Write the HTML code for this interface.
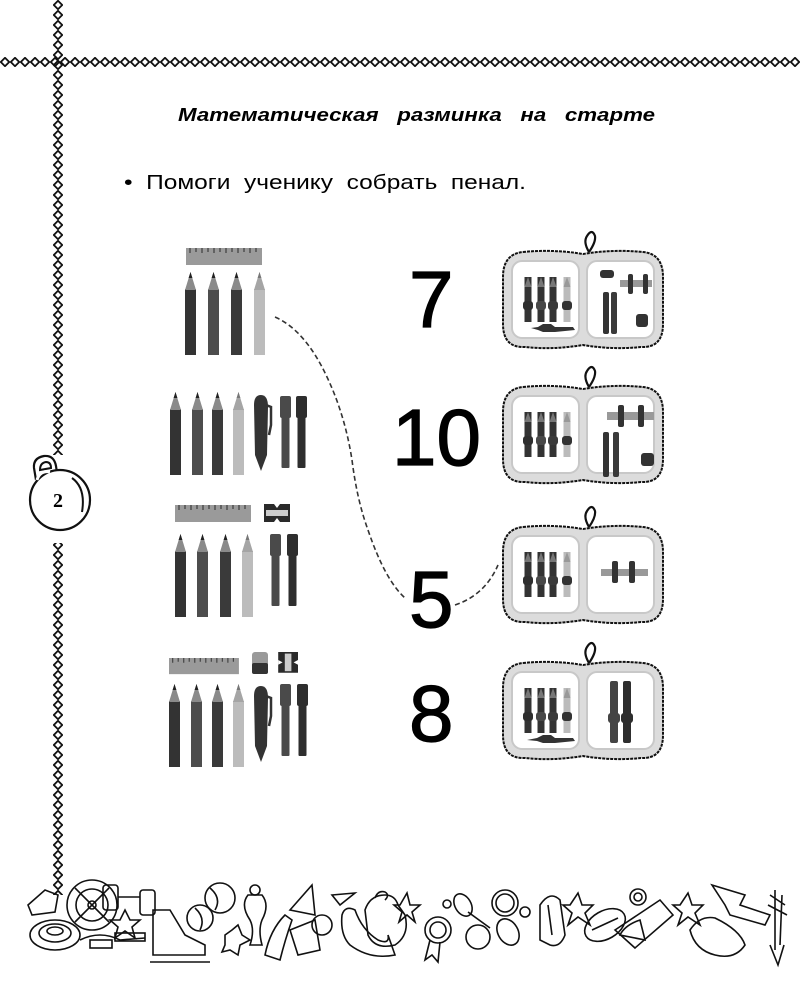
<!DOCTYPE html>
<html><head><meta charset="utf-8"><style>
html,body{margin:0;padding:0;background:#fff;}
svg{display:block;}
</style></head><body>
<svg width="800" height="1000" viewBox="0 0 800 1000" xmlns="http://www.w3.org/2000/svg">
<defs>
<pattern id="ch" x="0" y="57" width="10" height="10" patternUnits="userSpaceOnUse">
<path d="M5 0.8 L9.2 5 L5 9.2 L0.8 5 Z" fill="none" stroke="#111" stroke-width="1.8"/>
</pattern>
<pattern id="cv" x="53" y="0" width="10" height="10" patternUnits="userSpaceOnUse">
<path d="M5 0.8 L9.2 5 L5 9.2 L0.8 5 Z" fill="none" stroke="#111" stroke-width="1.8"/>
</pattern>
<g id="p"><rect y="17" width="11" height="66"/><polygon points="0,18 5.5,0 11,18" fill="#8a8a8a"/><polygon points="3.6,6 5.5,0 7.4,6" fill="#222"/></g>
<g id="pl"><rect y="17" width="11" height="66" fill="#bcbcbc"/><polygon points="0,18 5.5,0 11,18" fill="#a5a5a5"/><polygon points="3.6,6 5.5,0 7.4,6" fill="#777"/></g>
<g id="mk"><rect x="0" y="0" width="11" height="22" rx="2"/><rect x="1.5" y="20" width="8" height="52" rx="1"/></g>
<g id="pen"><path d="M2 10 Q2 0 9 0 Q16 0 16 12 L15 60 L9 76 L3 60 Z" fill="#333"/><path d="M14 10 L19 12 L19 30 L17 40" fill="none" stroke="#333" stroke-width="2.5"/></g>
<g id="ruler"><rect width="76" height="17" fill="#9a9a9a"/><path d="M4 0v5M10 0v4M16 0v5M22 0v4M28 0v5M34 0v4M40 0v5M46 0v4M52 0v5M58 0v4M64 0v5M70 0v4" stroke="#444" stroke-width="1.3"/></g>
<g id="sharp"><path d="M0 0H26V18H0V0Z" fill="#2a2a2a"/><rect x="2" y="6" width="22" height="6" fill="#ccc"/><path d="M10 0 L13 4 L16 0Z M10 18 L13 14 L16 18Z" fill="#fff"/></g>
<g id="cp"><rect x="-2.5" y="0" width="7" height="45" fill="#333"/><polygon points="-2.5,10 1,0 4.5,10" fill="#777"/><rect x="-4" y="24" width="10" height="9" rx="3"/></g>
<g id="shell">
<path d="M86 0 Q80 -10 84 -16 Q89 -24 92 -16 Q93 -10 86 0" fill="none" stroke="#111" stroke-width="2.2"/>
<path d="M20 0 Q50 -3 80 2 Q110 -3 140 0 Q160 2 160 25 L160 72 Q160 96 138 95 Q110 98 80 93 Q50 98 22 95 Q0 96 0 72 L0 25 Q0 2 20 0Z" fill="#dcdcdc" stroke="#111" stroke-width="2" stroke-dasharray="3 1"/>
<rect x="9" y="9" width="67" height="77" rx="10" fill="#fff" stroke="#c8c8c8" stroke-width="2"/>
<rect x="84" y="9" width="67" height="77" rx="10" fill="#fff" stroke="#c8c8c8" stroke-width="2"/>
</g>
<g id="lp">
<use href="#cp" x="24" y="25" fill="#2e2e2e"/>
<use href="#cp" x="37" y="25" fill="#484848"/>
<use href="#cp" x="49" y="25" fill="#3a3a3a"/>
<g transform="translate(63,25)"><rect x="-2.5" y="0" width="7" height="45" fill="#bbb"/><polygon points="-2.5,10 1,0 4.5,10" fill="#999"/><rect x="-4" y="24" width="10" height="9" rx="3" fill="#333"/></g>
</g>
</defs>

<rect x="0" y="57" width="800" height="10" fill="url(#ch)"/>
<rect x="53" y="0" width="10" height="895" fill="url(#cv)"/>

<!-- weight -->
<rect x="28" y="455" width="62" height="88" fill="#fff"/>
<path d="M36 480 L34 468 Q33 458 44 456 Q54 455 56 466 L57 473" fill="#fff" stroke="#111" stroke-width="2.2"/>
<path d="M40 470 Q40 463 46 462 Q51 462 51 468 Z" fill="#fff" stroke="#111" stroke-width="2"/>
<circle cx="60" cy="500" r="30" fill="#fff" stroke="#111" stroke-width="2.2"/>
<path d="M37 480 Q40 470 50 472" fill="none" stroke="#fff" stroke-width="3"/>
<path d="M72 478 Q86 488 82 512" fill="none" stroke="#111" stroke-width="2"/>
<text x="58" y="507" font-family="Liberation Serif, serif" font-weight="bold" font-size="20" text-anchor="middle">2</text>

<text x="178" y="121" font-family="Liberation Sans, sans-serif" font-weight="bold" font-style="italic" font-size="18" textLength="477" lengthAdjust="spacingAndGlyphs">Математическая&#160;&#160; разминка&#160;&#160; на&#160;&#160; старте</text>
<text x="124" y="189" font-family="Liberation Sans, sans-serif" font-size="20" textLength="402" lengthAdjust="spacingAndGlyphs">•&#160; Помоги&#160; ученику&#160; собрать&#160; пенал.</text>

<!-- group 1 -->
<use href="#ruler" x="186" y="248"/>
<use href="#p" x="185" y="272" fill="#333"/>
<use href="#p" x="208" y="272" fill="#4d4d4d"/>
<use href="#p" x="231" y="272" fill="#3a3a3a"/>
<use href="#pl" x="254" y="272"/>

<!-- group 2 -->
<use href="#p" x="170" y="392" fill="#333"/>
<use href="#p" x="192" y="392" fill="#4d4d4d"/>
<use href="#p" x="212" y="392" fill="#3a3a3a"/>
<use href="#pl" x="233" y="392"/>
<use href="#pen" x="252" y="395"/>
<use href="#mk" x="280" y="396" fill="#4a4a4a"/>
<use href="#mk" x="296" y="396" fill="#2e2e2e"/>

<!-- group 3 -->
<use href="#ruler" x="175" y="505"/>
<use href="#sharp" x="264" y="504"/>
<use href="#p" x="175" y="534" fill="#333"/>
<use href="#p" x="197" y="534" fill="#4d4d4d"/>
<use href="#p" x="220" y="534" fill="#3a3a3a"/>
<use href="#pl" x="242" y="534"/>
<use href="#mk" x="270" y="534" fill="#4a4a4a"/>
<use href="#mk" x="287" y="534" fill="#2e2e2e"/>

<!-- group 4 -->
<g transform="translate(169,658) scale(0.92,0.95)"><use href="#ruler"/></g>
<rect x="252" y="652" width="16" height="22" rx="3" fill="#9a9a9a"/>
<rect x="252" y="663" width="16" height="11" rx="2" fill="#333"/>
<g transform="translate(278,652) rotate(90 10 10)"><use href="#sharp" transform="scale(0.8,1.1)"/></g>
<use href="#p" x="169" y="684" fill="#333"/>
<use href="#p" x="191" y="684" fill="#4d4d4d"/>
<use href="#p" x="212" y="684" fill="#3a3a3a"/>
<use href="#pl" x="233" y="684"/>
<use href="#pen" x="252" y="686"/>
<use href="#mk" x="280" y="684" fill="#4a4a4a"/>
<use href="#mk" x="297" y="684" fill="#2e2e2e"/>

<!-- dashed line -->
<path d="M275 317 Q305 330 327 377 Q345 415 352 460 Q357 500 368 530 Q385 580 405 598" fill="none" stroke="#333" stroke-width="1.6" stroke-dasharray="5 3"/>
<path d="M455 605 Q485 595 498 565" fill="none" stroke="#333" stroke-width="1.6" stroke-dasharray="5 3"/>

<!-- numbers -->
<g font-family="Liberation Sans, sans-serif" font-size="80" fill="#000" stroke="#000" stroke-width="1.2">
<text x="409" y="327">7</text>
<text x="392" y="465">10</text>
<text x="409" y="627">5</text>
<text x="409" y="741">8</text>
</g>

<!-- case 1 -->
<g transform="translate(503,252)">
<use href="#shell"/>
<use href="#lp"/>
<path d="M28 76 L35 75 L40 72 L48 72 L52 75 L70 75 L72 78 L52 80 L40 80 L35 78 Z" fill="#333"/>
<rect x="97" y="18" width="14" height="8" rx="3" fill="#333"/>
<rect x="117" y="28" width="32" height="7" fill="#999"/>
<rect x="125" y="22" width="5" height="20" rx="2" fill="#333"/><rect x="140" y="22" width="5" height="20" rx="2" fill="#333"/>
<rect x="100" y="40" width="6" height="42" rx="2" fill="#333"/><rect x="108" y="40" width="6" height="42" rx="2" fill="#3a3a3a"/>
<rect x="133" y="62" width="12" height="13" rx="3" fill="#333"/>
</g>

<!-- case 2 -->
<g transform="translate(503,387)">
<use href="#shell"/>
<use href="#lp"/>
<rect x="104" y="25" width="47" height="8" fill="#999"/>
<rect x="115" y="18" width="6" height="22" rx="2" fill="#333"/><rect x="135" y="18" width="6" height="22" rx="2" fill="#333"/>
<rect x="100" y="45" width="6" height="45" rx="2" fill="#333"/><rect x="110" y="45" width="6" height="45" rx="2" fill="#3a3a3a"/>
<rect x="138" y="66" width="13" height="13" rx="3" fill="#333"/>
</g>

<!-- case 3 -->
<g transform="translate(503,527)">
<use href="#shell"/>
<use href="#lp"/>
<rect x="98" y="42" width="47" height="7" fill="#999"/>
<rect x="109" y="34" width="6" height="22" rx="2" fill="#333"/><rect x="126" y="34" width="6" height="22" rx="2" fill="#333"/>
</g>

<!-- case 4 -->
<g transform="translate(503,663)">
<use href="#shell"/>
<use href="#lp"/>
<path d="M24 77 L34 75 L40 72 L48 72 L52 75 L70 75 L72 78 L52 80 L40 80 L34 78 Z" fill="#333"/>
<rect x="107" y="18" width="8" height="62" rx="2" fill="#444"/><rect x="120" y="18" width="8" height="62" rx="2" fill="#2e2e2e"/>
<rect x="105" y="50" width="12" height="10" rx="3" fill="#444"/><rect x="118" y="50" width="12" height="10" rx="3" fill="#2e2e2e"/>
</g>

<!-- bottom doodles -->
<g fill="none" stroke="#111" stroke-width="1.6">
<path d="M28 905 L45 890 L58 895 L55 912 L32 915 Z"/>
<ellipse cx="55" cy="935" rx="25" ry="15"/><ellipse cx="55" cy="933" rx="16" ry="9"/><ellipse cx="55" cy="931" rx="8" ry="4"/>
<path d="M80 940 Q100 930 120 940 L145 938"/><rect x="90" y="940" width="22" height="8"/><rect x="115" y="933" width="30" height="8"/>
<circle cx="92" cy="905" r="25"/><circle cx="92" cy="905" r="16"/><circle cx="92" cy="905" r="4"/><path d="M75 888 L109 922 M75 922 L109 888"/>
<rect x="103" y="885" width="15" height="25" rx="3"/><rect x="140" y="890" width="15" height="25" rx="3"/><path d="M118 897 H140"/>
<path d="M125 910 L130 920 L140 920 L132 927 L135 938 L125 931 L115 938 L118 927 L110 920 L120 920 Z"/>
<path d="M153 910 L170 910 L185 935 L205 945 L205 955 L153 955 Z"/><path d="M150 962 L210 962"/>
<circle cx="220" cy="898" r="15"/><circle cx="200" cy="918" r="13"/><path d="M210 888 Q222 898 215 910 M195 908 Q206 918 200 930"/>
<path d="M248 895 Q240 905 250 920 Q255 930 250 945 L262 945 Q258 930 262 920 Q270 905 262 895 Z"/><circle cx="255" cy="890" r="5"/>
<path d="M265 955 Q270 930 285 915 L292 920 Q285 940 280 960 Z"/>
<path d="M225 935 L232 930 L238 925 L242 935 L250 940 L240 945 L238 955 L230 950 L222 952 L225 945 Z"/>
<path d="M290 910 L312 885 L315 915 Z"/><path d="M290 930 L315 920 L320 950 L298 955 Z"/>
<circle cx="322" cy="925" r="10"/>
<path d="M332 895 L355 893 L340 905 Z"/>
<path d="M342 915 Q345 905 355 910 Q362 930 378 940 Q390 945 388 935 L395 955 Q370 960 350 945 Q340 935 342 915 Z"/>
<path d="M365 910 Q370 895 385 895 Q395 895 398 905 L405 915 Q410 935 395 945 Q375 950 368 935 Z"/><path d="M375 898 Q378 890 385 892 Q390 895 385 900"/>
<path d="M400 905 L407 893 L410 905 L420 905 L412 912 L415 922 L407 915 L399 922 L402 912 L394 905 Z"/>
<circle cx="438" cy="930" r="13"/><circle cx="438" cy="930" r="8"/><path d="M430 940 L425 960 L432 955 L438 962 L440 942"/>
<circle cx="447" cy="904" r="4"/>
<ellipse cx="463" cy="905" rx="8" ry="12" transform="rotate(-30 463 905)"/><path d="M468 912 L490 928"/><ellipse cx="508" cy="932" rx="10" ry="14" transform="rotate(-30 508 932)"/>
<circle cx="478" cy="937" r="12"/>
<circle cx="505" cy="903" r="13"/><circle cx="505" cy="903" r="9"/><circle cx="525" cy="912" r="5"/>
<path d="M540 905 Q550 890 560 900 L565 935 Q560 948 550 945 L540 940 Z"/><path d="M548 905 L552 935"/>
<path d="M570 905 L578 893 L582 905 L593 905 L585 913 L590 925 L578 917 L568 925 L572 913 L563 905 Z"/>
<ellipse cx="605" cy="925" rx="22" ry="14" transform="rotate(-30 605 925)"/><path d="M592 930 L618 918"/>
<circle cx="638" cy="897" r="8"/><circle cx="638" cy="897" r="4"/>
<path d="M615 930 L660 900 L673 915 L635 948 Z"/><path d="M620 935 Q625 925 640 920 L645 940 Z"/>
<path d="M680 905 L688 893 L692 905 L703 905 L695 913 L700 925 L688 917 L678 925 L682 913 L673 905 Z"/>
<path d="M690 930 Q700 915 715 918 Q740 930 745 945 Q735 960 715 955 Q695 950 690 930 Z"/>
<path d="M712 885 L745 895 L740 905 L770 915 L765 925 L730 915 L725 905 Z"/>
<path d="M775 890 L775 950 M782 895 L780 945 M770 895 L785 905 M768 905 L787 915 M770 945 L778 965 L784 945"/>
</g>
</svg>
</body></html>
